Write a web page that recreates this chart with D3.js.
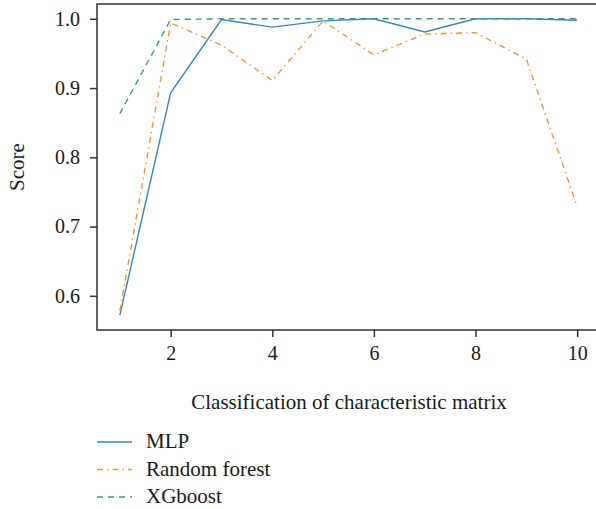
<!DOCTYPE html>
<html>
<head>
	<script src="https://d3js.org/d3.v7.min.js"></script>
	<style>
		body { margin: 0; background: #fff; }
		text { font-family: "Liberation Serif", "DejaVu Serif", serif; fill: #1a1a1a; }
	</style>
</head>
<body>
	<div class="chart"></div>
	<script>
		var w = 596, h = 509;
		var xs = [1, 2, 3, 4, 5, 6, 7, 8, 9, 10];
		var mlp = [0.572, 0.893, 0.999, 0.988, 0.997, 1.0, 0.981, 1.0, 1.0, 0.998];
		var rf = [0.578, 0.994, 0.962, 0.911, 0.997, 0.948, 0.978, 0.980, 0.942, 0.729];
		var xgb = [0.863, 0.999, 1.0, 1.0, 1.0, 1.0, 1.0, 1.0, 1.0, 1.0];
		var xTicks = [2, 4, 6, 8, 10];
		var yTicks = [0.6, 0.7, 0.8, 0.9, 1.0];
		var seriesNames = ["MLP", "Random forest", "XGboost"];
		var colors = ["#3b84c4", "#f99240", "#3d9a72"];
		var dashes = [null, "6,4,1.5,4", "6,5"];

		var padL = 97, padT = 4, padR = 600, padB = 330;
		var svg = d3.select(".chart").append("svg")
			.attr("width", w).attr("height", h);

		var x = d3.scaleLinear().domain([0.55, 10.45]).range([padL, padR]);
		var y = d3.scaleLinear().domain([0.5506, 1.0214]).range([padB, padT]);

		function styleAxis(g) {
			g.select(".domain").remove();
			g.selectAll("line").attr("stroke", "#333").attr("stroke-width", 1.5);
			g.selectAll("text").attr("font-size", 20).attr("font-family", "Liberation Serif").attr("fill", "#1a1a1a");
		}

		svg.append("g")
			.attr("transform", "translate(0," + padB + ")")
			.call(d3.axisBottom(x).tickValues(xTicks).tickSize(7).tickPadding(9).tickFormat(d3.format("d")))
			.call(styleAxis);
		svg.append("g")
			.attr("transform", "translate(" + padL + ",0)")
			.call(d3.axisLeft(y).tickValues(yTicks).tickSize(7).tickPadding(10).tickFormat(d3.format(".1f")))
			.call(styleAxis);
		svg.append("rect")
			.attr("x", padL).attr("y", padT)
			.attr("width", padR - padL).attr("height", padB - padT)
			.attr("fill", "none").attr("stroke", "#333").attr("stroke-width", 1.5);

		var line = d3.line()
			.x(function(d) { return x(d[0]); })
			.y(function(d) { return y(d[1]); });

		[mlp, rf, xgb].forEach(function(vals, i) {
			svg.append("path")
				.datum(xs.map(function(v, j) { return [v, vals[j]]; }))
				.attr("d", line)
				.attr("fill", "none")
				.attr("stroke", colors[i])
				.attr("stroke-width", 1.4)
				.attr("stroke-dasharray", dashes[i]);
		});

		svg.append("text")
			.attr("transform", "translate(24," + ((padT + padB) / 2) + ") rotate(-90)")
			.attr("text-anchor", "middle")
			.attr("font-size", 21)
			.text("Score");
		svg.append("text")
			.attr("x", 349).attr("y", 409)
			.attr("text-anchor", "middle")
			.attr("font-size", 21)
			.text("Classification of characteristic matrix");

		var legend = svg.append("g");
		seriesNames.forEach(function(name, i) {
			var ly = 442 + i * 27.5;
			legend.append("line")
				.attr("x1", 97).attr("x2", 132)
				.attr("y1", ly).attr("y2", ly)
				.attr("stroke", colors[i])
				.attr("stroke-width", 1.4)
				.attr("stroke-dasharray", dashes[i]);
			legend.append("text")
				.attr("x", 146).attr("y", ly + 6)
				.attr("font-size", 21)
				.text(name);
		});
	</script>
</body>
</html>
